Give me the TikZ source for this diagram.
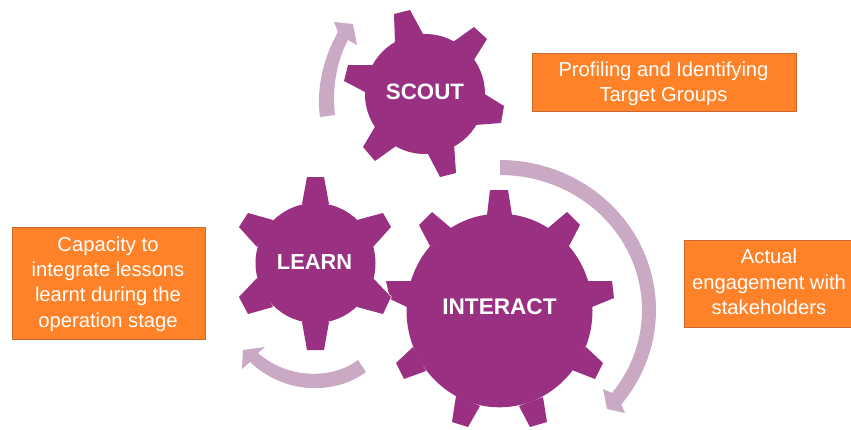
\documentclass[tikz,border=0pt]{standalone}
\usepackage{fontspec}
\setmainfont{Liberation Sans}
\definecolor{gearc}{HTML}{993082}
\definecolor{arrowc}{HTML}{C9A9C3}
\definecolor{boxc}{HTML}{FF8228}
\definecolor{boxe}{HTML}{C8692D}
\tikzset{
  gearline/.style={draw=white,line width=1.4pt,line join=round},
  sweep/.style={fill=arrowc,draw=none},
  gearlabel/.style={text=white,font=\bfseries\fontsize{#1}{#1}\selectfont,inner sep=0pt},
  infobox/.style={fill=boxc,draw=boxe,line width=.8pt,inner sep=0pt},
  infotext/.style={text=white,align=center,inner sep=0pt,font=\fontsize{20.2}{25.4}\selectfont}
}
\newcommand{\mygear}[4]{%
  \draw[gearline] (#1) ellipse [x radius=#2,y radius=#3];
  \draw[gearline] #4;
  \fill[gearc] #4;
  \fill[gearc] (#1) ellipse [x radius=#2,y radius=#3];
}
\begin{document}
\begin{tikzpicture}[x=1pt,y=-1pt]
\useasboundingbox (0,0) rectangle (851,429);
% sweep arrows
\fill[sweep] (320,117) .. controls (316,90) and (323,58) .. (338,32) -- (334,22) -- (353,24) -- (357,45)
  -- (348,40) .. controls (336,62) and (332,90) .. (335,115) -- cycle;
\fill[sweep] plot[domain=90:-39,samples=60,variable=\t] ({500+156*cos(\t)},{310-150*sin(\t)})
  -- (625,413) -- (607,409) -- (603,389) -- (612,393)
  -- plot[domain=-38:90,samples=60,variable=\t] ({500+142*cos(\t)},{310-135*sin(\t)}) -- cycle;
\fill[sweep] (366,372) .. controls (335,395) and (285,395) .. (250,362) -- (242,369) -- (243,350) -- (265,347)
  -- (258,353) .. controls (290,381) and (335,378) .. (358,360) -- cycle;
% INTERACT gear
\mygear{499.5,310.5}{93pt}{96.8pt}{
  (487,215)--(490,190)--(508,190)--(512,215)--cycle
  (548,228)--(567,212)--(580,225)--(569,246)--cycle
  (587,281)--(612,281)--(614,298)--(592,307)--cycle
  (586,347)--(603,363)--(595,379)--(572,370)--cycle
  (543,397)--(547,422)--(530,427)--(519,406)--cycle
  (480,406)--(468,427)--(452,422)--(456,396)--cycle
  (426,371)--(404,379)--(396,363)--(413,347)--cycle
  (407,307)--(390,299)--(386,281)--(412,281)--cycle
  (430,246)--(419,225)--(432,212)--(451,228)--cycle}
% LEARN gear
\mygear{315.5,263}{60pt}{60pt}{
  (302,204)--(307,177)--(324,177)--(329,204)--cycle
  (357,220)--(383,213)--(391,227)--(373,247)--cycle
  (373,278)--(391,297)--(383,314)--(357,307)--cycle
  (329,322)--(324,350)--(307,350)--(302,322)--cycle
  (273,307)--(248,314)--(239,297)--(257,278)--cycle
  (257,247)--(239,227)--(248,213)--(273,220)--cycle}
% SCOUT gear
\mygear{425,94}{60pt}{60pt}{
  (395,43)--(394,14)--(410,10)--(423,34)--cycle
  (453,42)--(474,27)--(487,39)--(472,63)--cycle
  (483,93)--(504,106)--(501,123)--(475,125)--cycle
  (454,144)--(456,173)--(440,177)--(428,154)--cycle
  (396,146)--(375,161)--(363,147)--(376,125)--cycle
  (367,93)--(344,81)--(348,65)--(374,65)--cycle}
% labels
\node[gearlabel=22.3] (scout) at (425,92) {SCOUT};
\node[gearlabel=21.8] (learn) at (314.5,262) {LEARN};
\node[gearlabel=22.6] (interact) at (499.5,307) {INTERACT};
\node[infobox,minimum width=264,minimum height=58] (b1) at (664,82) {};
\node[infotext] (t1) at (663.5,83.5) {Profiling and Identifying\\Target Groups};
\node[infobox,minimum width=193,minimum height=112] (b2) at (108.5,283) {};
\node[infotext] (t2) at (108,284) {Capacity to\\integrate lessons\\learnt during the\\operation stage};
\node[infobox,minimum width=170,minimum height=87] (b3) at (769,283.5) {};
\node[infotext] (t3) at (769,282) {Actual\\engagement with\\stakeholders};
\end{tikzpicture}
\end{document}
